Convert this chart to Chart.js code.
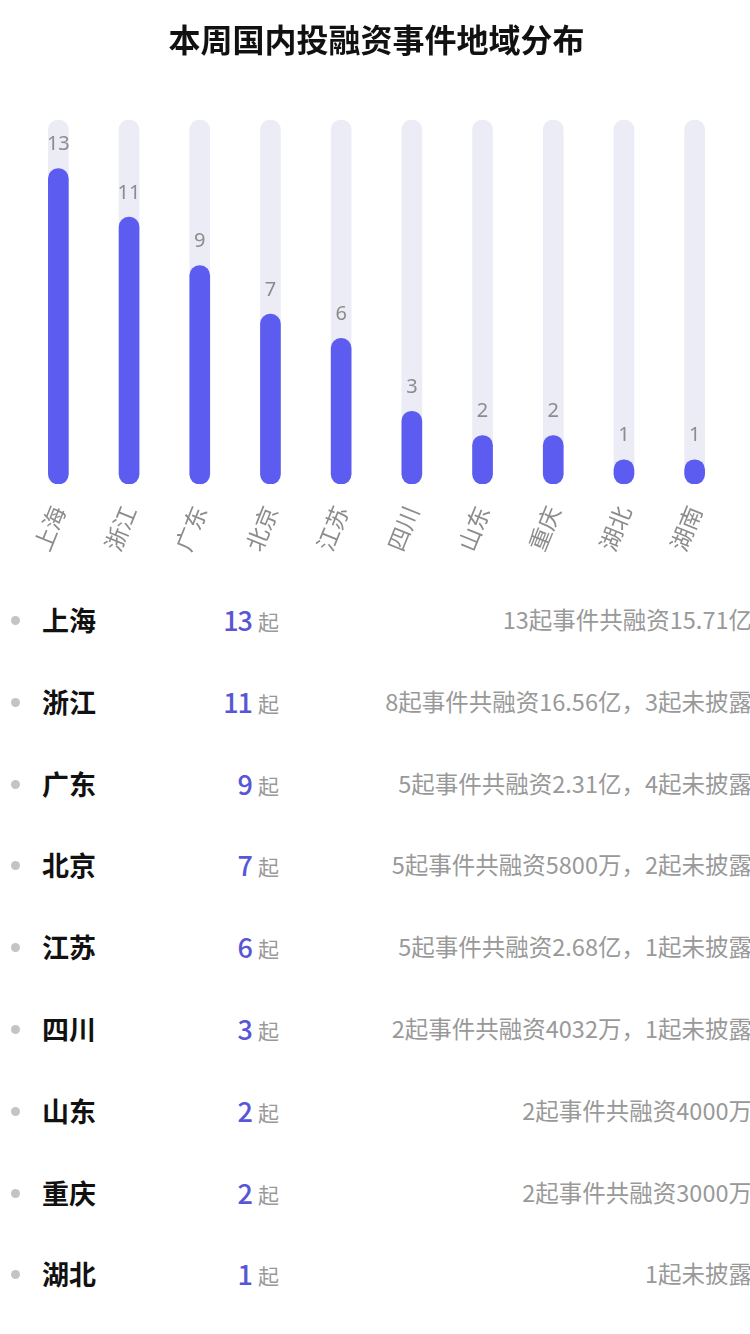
<!DOCTYPE html>
<html>
<head>
<meta charset="utf-8">
<script src="https://cdn.jsdelivr.net/npm/chart.js@4/dist/chart.umd.min.js"></script>
<style>
  html, body { margin: 0; padding: 0; background: #fff; overflow: hidden; }
  body { width: 750px; height: 1334px; font-family: "Noto Sans CJK SC", "Noto Sans", sans-serif; }
  #wrap { position: relative; width: 750px; height: 579px; }
  #list { position: relative; width: 750px; }
  .row { position: relative; height: 81.8px; }
  .dot { position: absolute; left: 11px; top: 37px; width: 9px; height: 9px; border-radius: 50%; background: #c4c4c8; }
  .name { position: absolute; left: 42px; top: 0; line-height: 81.8px; font-size: 27px; font-weight: bold; color: #111; }
  .cnt { position: absolute; right: 498px; top: 0; line-height: 81.8px; font-size: 27px; font-weight: 500; letter-spacing: -1px; color: #5856d6; }
  .unit { position: absolute; left: 258px; top: 2px; line-height: 81.8px; font-size: 21px; color: #999; }
  .note { position: absolute; right: -2px; top: 0; line-height: 81.8px; font-size: 23.5px; color: #999; white-space: nowrap; }
</style>
</head>
<body>
<div id="wrap"><canvas id="chart"></canvas></div>
<div id="list"></div>
<script>
// chart data
const regions = ['上海', '浙江', '广东', '北京', '江苏', '四川', '山东', '重庆', '湖北', '湖南'];
const counts = [13, 11, 9, 7, 6, 3, 2, 2, 1, 1];
const trackMax = 15;
// list notes (only the rows visible in the picture)
const notes = [
    '13起事件共融资15.71亿',
    '8起事件共融资16.56亿，3起未披露',
    '5起事件共融资2.31亿，4起未披露',
    '5起事件共融资5800万，2起未披露',
    '5起事件共融资2.68亿，1起未披露',
    '2起事件共融资4032万，1起未披露',
    '2起事件共融资4000万',
    '2起事件共融资3000万',
    '1起未披露'
];

// value labels above each bar
const valueLabels = {
    id: 'valueLabels',
    afterDatasetsDraw(chart) {
        const ctx = chart.ctx;
        const meta = chart.getDatasetMeta(0);
        ctx.save();
        ctx.font = '20px "Noto Sans", "Noto Sans CJK SC", sans-serif';
        ctx.fillStyle = '#8c8c8c';
        ctx.textAlign = 'center';
        ctx.textBaseline = 'middle';
        meta.data.forEach((bar, i) => {
            ctx.fillText(counts[i], bar.x, bar.y - 24);
        });
        ctx.restore();
    }
};

const ctx = document.getElementById('chart').getContext('2d');
const myChart = new Chart(ctx, {
    type: 'bar',
    data: {
        labels: regions,
        datasets: [{
            data: counts,
            backgroundColor: '#5c5cf0',
            barThickness: 20,
            borderRadius: 10,
            borderSkipped: false,
            grouped: false,
            order: 1
        }, {
            data: regions.map(() => trackMax),
            backgroundColor: '#ebecf6',
            barThickness: 20,
            borderRadius: 10,
            borderSkipped: false,
            grouped: false,
            order: 2
        }]
    },
    options: {
        responsive: true,
        maintainAspectRatio: false,
        animation: false,
        layout: { padding: { left: 23, right: 20, top: 0, bottom: 6 } },
        plugins: {
            legend: { display: false },
            tooltip: { enabled: false },
            title: {
                display: true,
                text: '本周国内投融资事件地域分布',
                color: '#111',
                font: { size: 32, weight: 'bold', family: '"Noto Sans CJK SC", sans-serif' },
                padding: { top: 21, bottom: 60.6 }
            }
        },
        scales: {
            y: { display: false, min: 0, max: trackMax },
            x: {
                grid: { display: false, drawTicks: false },
                border: { display: false },
                ticks: {
                    color: '#8c8c8c',
                    padding: 18,
                    minRotation: 68,
                    maxRotation: 68,
                    font: { size: 23, family: '"Noto Sans CJK SC", sans-serif' }
                }
            }
        }
    },
    plugins: [valueLabels]
});

// build the list below the chart
const list = document.getElementById('list');
notes.forEach((note, i) => {
    const row = document.createElement('div');
    row.className = 'row';
    row.innerHTML = '<span class="dot"></span>' +
        '<span class="name">' + regions[i] + '</span>' +
        '<span class="cnt">' + counts[i] + '</span>' +
        '<span class="unit">起</span>' +
        '<span class="note">' + note + '</span>';
    list.appendChild(row);
});
</script>
</body>
</html>
